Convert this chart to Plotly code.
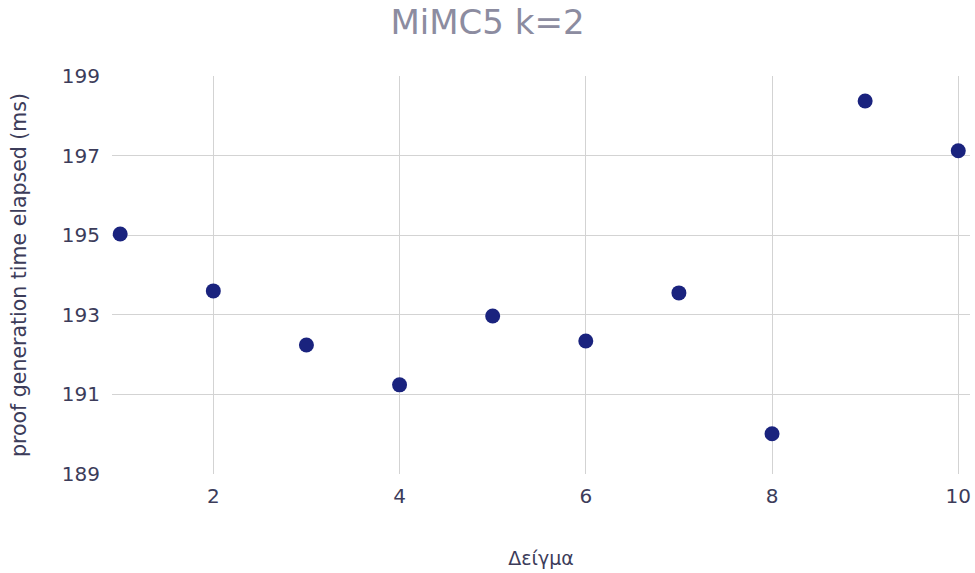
import plotly.graph_objects as go

samples = [1, 2, 3, 4, 5, 6, 7, 8, 9, 10]
elapsed_ms = [195.03, 193.60, 192.24, 191.24, 192.97, 192.34, 193.55, 190.01, 198.37, 197.12]
y_ticks = [189, 191, 193, 195, 197, 199]
x_ticks = [2, 4, 6, 8, 10]

FONT = "Verdana, DejaVu Sans, sans-serif"
W, H = 975, 573

fig = go.Figure(go.Scatter(
    x=samples, y=elapsed_ms, mode="markers",
    marker=dict(color="#1a237e", size=15),
))

fig.update_layout(
    width=W, height=H,
    paper_bgcolor="white", plot_bgcolor="white",
    margin=dict(l=112, r=5, t=76, b=99, autoexpand=False),
    font=dict(family=FONT, size=20, color="#3c3c5a"),
    title=dict(text="MiMC5 k=2", x=0.5, xanchor="center",
               y=1 - 22 / H, yanchor="middle",
               font=dict(family=FONT, size=34, color="#8c8ca0")),
    showlegend=False,
)
fig.update_xaxes(
    range=[0.912, 10.126], tickvals=x_ticks, showgrid=True, gridcolor="#d3d3d3", gridwidth=1,
    zeroline=False, showline=False, ticks="", automargin=False, ticklabelstandoff=8,
    title=dict(text="Δείγμα", font=dict(size=19), standoff=44),
)
fig.update_yaxes(
    range=[189, 199], tickvals=y_ticks, showgrid=True, gridcolor="#d3d3d3", gridwidth=1,
    zeroline=False, showline=False, ticks="", automargin=False, ticklabelstandoff=11,
    title=dict(text="proof generation time elapsed (ms)", font=dict(size=20.5), standoff=29),
)

fig.write_html("out.html", config={"displayModeBar": False},
               post_script="document.body.style.margin='0';document.body.style.overflow='hidden';")
